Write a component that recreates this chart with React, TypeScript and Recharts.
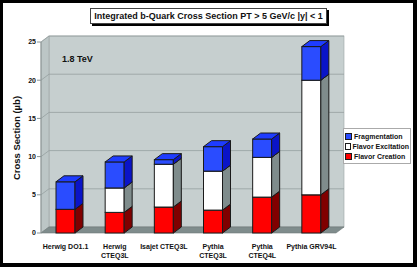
import React from 'react';
import { BarChart, Bar, XAxis, YAxis, ReferenceArea } from 'recharts';

const categories = ['Herwig DO1.1', 'Herwig\nCTEQ3L', 'Isajet CTEQ3L', 'Pythia\nCTEQ3L', 'Pythia\nCTEQ4L', 'Pythia GRV94L'];
const creation = [3.1, 2.7, 3.4, 3.0, 4.7, 5.0];
const excitation = [0, 3.2, 5.6, 5.1, 5.2, 15.0];
const fragmentation = [3.6, 3.4, 0.6, 3.2, 2.4, 4.4];
const yTicks = [0, 5, 10, 15, 20, 25];

const series = [
  { key: 'creation', name: 'Flavor Creation', front: '#ff0000', side: '#800000', top: '#ff3030' },
  { key: 'excitation', name: 'Flavor Excitation', front: '#ffffff', side: '#7f8c8c', top: '#f0f0f0' },
  { key: 'fragmentation', name: 'Fragmentation', front: '#2a4cff', side: '#0a14c8', top: '#1e3cff' },
];

const data = categories.map((name, i) => ({
  name,
  creation: creation[i],
  excitation: excitation[i],
  fragmentation: fragmentation[i],
}));

const DX = 8;
const DY = 6;
const FONT = '"Liberation Sans", Arial, sans-serif';
const EDGE = '#1a1a1a';

const makeShape = (s: any) => (props: any) => {
  const { x, y, width: w, height: h } = props;
  if (!h || h <= 0) return <g />;
  return (
    <g>
      <rect x={x} y={y} width={w} height={h} fill={s.front} stroke={EDGE} strokeWidth={1} />
      <polygon
        points={`${x + w},${y + h} ${x + w + DX},${y + h - DY} ${x + w + DX},${y - DY} ${x + w},${y}`}
        fill={s.side}
        stroke={EDGE}
        strokeWidth={1}
      />
      <polygon
        points={`${x},${y} ${x + w},${y} ${x + w + DX},${y - DY} ${x + DX},${y - DY}`}
        fill={s.top}
        stroke={EDGE}
        strokeWidth={1}
      />
    </g>
  );
};

const Room = (props: any) => {
  const { x, y, width: w, height: h } = props;
  const max = yTicks[yTicks.length - 1];
  return (
    <g>
      <rect x={x + DX} y={y - DY} width={w} height={h} fill="#c6cfcf" stroke="#9aa3a3" strokeWidth={0.6} />
      <polygon
        points={`${x},${y} ${x + DX},${y - DY} ${x + DX},${y + h - DY} ${x},${y + h}`}
        fill="#bcc6c6"
        stroke="#9aa3a3"
        strokeWidth={0.6}
      />
      {yTicks.map((v) => {
        const yy = y + h - (v / max) * h;
        return (
          <polyline
            key={v}
            points={`${x},${yy} ${x + DX},${yy - DY} ${x + w + DX},${yy - DY}`}
            fill="none"
            stroke="#959f9f"
            strokeWidth={0.8}
          />
        );
      })}
      <polygon
        points={`${x},${y + h} ${x + w},${y + h} ${x + w + DX},${y + h - DY} ${x + DX},${y + h - DY}`}
        fill="#7f8c8c"
        stroke="#6f7a7a"
        strokeWidth={0.6}
      />
    </g>
  );
};

const XTick = ({ x, y, payload }: any) => {
  const lines = String(payload.value).split('\n');
  return (
    <text x={x} y={y} textAnchor="middle" fontSize={7} fontWeight="bold" fontFamily={FONT} fill="#111">
      {lines.map((l, i) => (
        <tspan key={i} x={x} dy={i === 0 ? 8 : 8.5}>
          {l}
        </tspan>
      ))}
    </text>
  );
};

export default function App() {
  return (
    <div style={{ position: 'absolute', left: 0, top: 0, width: 417, height: 267, background: '#fff', fontFamily: FONT }}>
      <BarChart width={417} height={267} data={data} margin={{ top: 42, right: 81, bottom: 0, left: 0 }}>
        <ReferenceArea y1={0} y2={25} shape={<Room />} ifOverflow="visible" />
        <XAxis dataKey="name" height={34} tick={<XTick />} tickLine={false} axisLine={false} interval={0} />
        <YAxis
          width={41}
          domain={[0, 25]}
          ticks={yTicks}
          tickSize={4}
          tickMargin={1}
          tick={{ fontSize: 7, fontWeight: 'bold', fill: '#111', fontFamily: FONT }}
          stroke="#8a9494"
        />
        {series.map((s) => (
          <Bar
            key={s.key}
            dataKey={s.key}
            name={s.name}
            stackId="a"
            fill={s.front}
            barSize={19}
            shape={makeShape(s)}
            isAnimationActive={false}
          />
        ))}
      </BarChart>

      <div style={{ position: 'absolute', left: 62, top: 54, fontSize: 9, fontWeight: 'bold', color: '#111' }}>1.8 TeV</div>

      <div
        style={{
          position: 'absolute',
          left: 16,
          top: 138,
          transform: 'translate(-50%, -50%) rotate(-90deg)',
          fontSize: 9.5,
          fontWeight: 'bold',
          whiteSpace: 'nowrap',
          color: '#111',
        }}
      >
        Cross Section (µb)
      </div>

      <div
        style={{
          position: 'absolute',
          left: 90,
          top: 8,
          width: 235,
          height: 14,
          border: '1px solid #444',
          boxShadow: '2px 2px 0 #000',
          background: '#fff',
          fontSize: 9,
          fontWeight: 'bold',
          lineHeight: '14px',
          textAlign: 'center',
          whiteSpace: 'nowrap',
          color: '#111',
        }}
      >
        Integrated b-Quark Cross Section PT &gt; 5 GeV/c |y| &lt; 1
      </div>

      <div
        style={{
          position: 'absolute',
          left: 343,
          top: 128,
          width: 64,
          padding: '2px 1px',
          border: '1px solid #aaa',
          background: '#fff',
          fontSize: 7,
          fontWeight: 'bold',
          color: '#111',
        }}
      >
        {[...series].reverse().map((s) => (
          <div key={s.key} style={{ display: 'flex', alignItems: 'center', height: 10, whiteSpace: 'nowrap' }}>
            <span
              style={{
                display: 'inline-block',
                width: 5,
                height: 5,
                border: `1px solid ${EDGE}`,
                background: s.front,
                marginRight: 2,
              }}
            />
            {s.name}
          </div>
        ))}
      </div>

      <div
        style={{
          position: 'absolute',
          left: 0,
          top: 0,
          width: 417,
          height: 267,
          boxSizing: 'border-box',
          border: '3px solid #000',
          borderRightWidth: 4,
          borderBottomWidth: 4,
          pointerEvents: 'none',
        }}
      />
    </div>
  );
}
